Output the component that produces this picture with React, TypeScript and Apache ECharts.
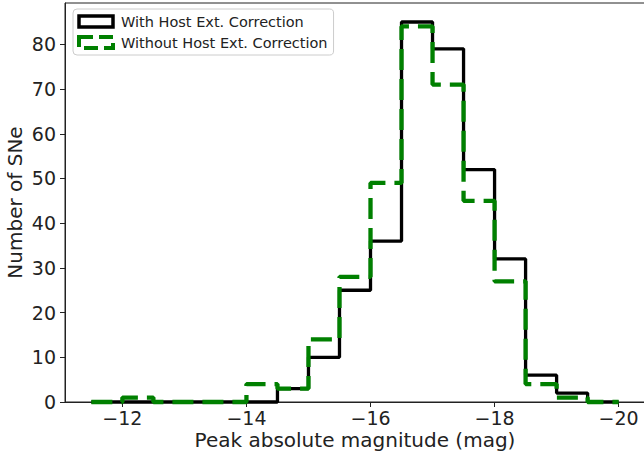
import React, { useEffect, useRef } from "react";
import * as echarts from "echarts";

const binEdges = [-11.5, -12, -12.5, -13, -13.5, -14, -14.5, -15, -15.5, -16, -16.5, -17, -17.5, -18, -18.5, -19, -19.5, -20];
const withCorrection = [0, 0, 0, 0, 0, 0, 3, 10, 25, 36, 85, 79, 52, 32, 6, 2, 0];
const withoutCorrection = [0, 1, 0, 0, 0, 4, 3, 14, 28, 49, 84, 71, 45, 27, 4, 1, 0];
const xTicks = [-12, -14, -16, -18, -20];
const yTicks = [0, 10, 20, 30, 40, 50, 60, 70, 80];
const seriesNames = ["With Host Ext. Correction", "Without Host Ext. Correction"];

function stepPoints(counts: number[]): number[][] {
  const pts: number[][] = [[binEdges[0], 0]];
  counts.forEach((c, i) => pts.push([binEdges[i], c]));
  pts.push([binEdges[binEdges.length - 1], counts[counts.length - 1]]);
  pts.push([binEdges[binEdges.length - 1], 0]);
  return pts;
}

const fmt = (v: number) => (v < 0 ? "\u2212" + Math.abs(v) : String(v));
const FONT = "DejaVu Sans";

export default function App() {
  const ref = useRef<HTMLDivElement>(null);
  useEffect(() => {
    document.body.style.margin = "0";
    const chart = echarts.init(ref.current!, null, { renderer: "svg" });
    chart.setOption({
      animation: false,
      textStyle: { fontFamily: FONT },
      grid: {
        left: 65,
        top: 3,
        right: -1,
        bottom: 55,
        outerBoundsMode: "none",
        containLabel: false,
        show: true,
        borderColor: "#222",
        borderWidth: 1,
        backgroundColor: "transparent",
      },
      legend: {
        orient: "vertical",
        left: 73,
        top: 9,
        padding: [5, 6, 5, 4],
        itemWidth: 34,
        itemHeight: 11,
        itemGap: 6,
        borderColor: "#cccccc",
        borderWidth: 1,
        borderRadius: 4,
        backgroundColor: "rgba(255,255,255,0.8)",
        textStyle: { fontFamily: FONT, fontSize: 14.5, color: "#222", padding: [0, 0, 0, 3] },
        data: [
          {
            name: seriesNames[0],
            icon: "rect",
            itemStyle: { color: "transparent", borderColor: "#000", borderWidth: 3.5 },
          },
          {
            name: seriesNames[1],
            icon: "rect",
            itemStyle: { color: "transparent", borderColor: "#008000", borderWidth: 4, borderType: [14, 6] },
          },
        ],
      },
      xAxis: {
        type: "value",
        min: -20.425,
        max: -11.075,
        inverse: true,
        name: "Peak absolute magnitude (mag)",
        nameLocation: "middle",
        nameGap: 28,
        nameMoveOverlap: false,
        nameTextStyle: { fontFamily: FONT, fontSize: 20, color: "#222" },
        splitLine: { show: false },
        axisLine: { lineStyle: { color: "#222", width: 1 } },
        axisTick: { customValues: xTicks, length: 5, lineStyle: { color: "#222" } },
        axisLabel: { customValues: xTicks, formatter: fmt, fontSize: 19, color: "#222", margin: 6, fontFamily: FONT },
      },
      yAxis: {
        type: "value",
        min: 0,
        max: 89.25,
        name: "Number of SNe",
        nameLocation: "middle",
        nameGap: 40,
        nameMoveOverlap: false,
        nameTextStyle: { fontFamily: FONT, fontSize: 20, color: "#222" },
        splitLine: { show: false },
        axisLine: { show: true, lineStyle: { color: "#222", width: 1 } },
        axisTick: { show: true, customValues: yTicks, length: 5, lineStyle: { color: "#222" } },
        axisLabel: { customValues: yTicks, formatter: fmt, fontSize: 19, color: "#222", margin: 9, fontFamily: FONT },
      },
      series: [
        {
          name: seriesNames[0],
          type: "line",
          step: "end",
          data: stepPoints(withCorrection),
          showSymbol: false,
          symbol: "none",
          clip: false,
          lineStyle: { color: "#000", width: 3.3 },
          itemStyle: { color: "#000" },
          z: 3,
        },
        {
          name: seriesNames[1],
          type: "line",
          step: "end",
          data: stepPoints(withoutCorrection),
          showSymbol: false,
          symbol: "none",
          clip: false,
          lineStyle: { color: "#008000", width: 4.3, type: [21, 9] },
          itemStyle: { color: "#008000" },
          z: 4,
        },
      ],
    });
    return () => chart.dispose();
  }, []);
  return <div ref={ref} style={{ width: 644, height: 457 }} />;
}
